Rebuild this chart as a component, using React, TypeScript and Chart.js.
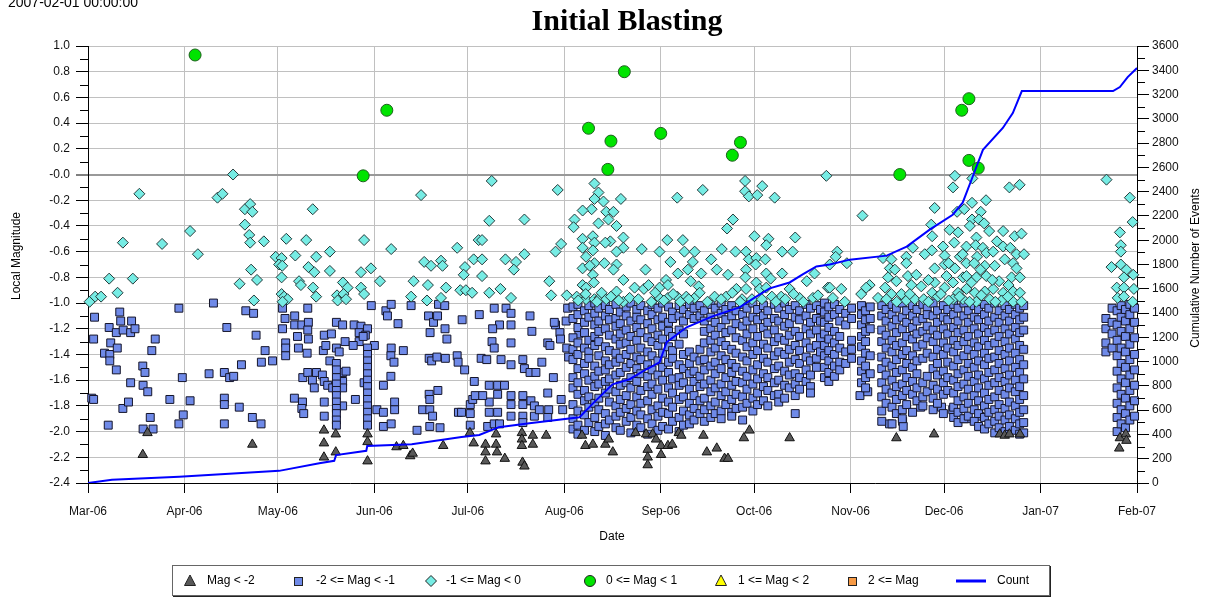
import React, { useEffect, useRef } from "react";
import { Chart, registerables } from "chart.js";
Chart.register(...registerables);

// x values are days since 2006-03-01
const monthTickDays = [0, 31, 61, 92, 122, 153, 184, 214, 245, 275, 306, 337];
const monthTickLabels = ["Mar-06", "Apr-06", "May-06", "Jun-06", "Jul-06", "Aug-06", "Sep-06", "Oct-06", "Nov-06", "Dec-06", "Jan-07", "Feb-07"];
const magTickValues = [-2.4, -2.2, -2.0, -1.8, -1.6, -1.4, -1.2, -1.0, -0.8, -0.6, -0.4, -0.2, 0.0, 0.2, 0.4, 0.6, 0.8, 1.0];
const magTickLabels = ["-2.4", "-2.2", "-2.0", "-1.8", "-1.6", "-1.4", "-1.2", "-1.0", "-0.8", "-0.6", "-0.4", "-0.2", "-0.0", "0.2", "0.4", "0.6", "0.8", "1.0"];
const magMinorTicks = [-2.3, -2.1, -1.9, -1.7, -1.5, -1.3, -1.1, -0.9, -0.7, -0.5, -0.3, -0.1, 0.1, 0.3, 0.5, 0.7, 0.9];
const countMinorTicks = [100, 300, 500, 700, 900, 1100, 1300, 1500, 1700, 1900, 2100, 2300, 2500, 2700, 2900, 3100, 3300, 3500];

const legendLabels = ["Mag < -2", "-2 <= Mag < -1", "-1 <= Mag < 0", "0 <= Mag < 1", "1 <= Mag < 2", "2 <= Mag", "Count"];

// cumulative count line
const countDays = [0, 7.7, 29.3, 61.4, 74.3, 79.1, 79.7, 89.4, 89.7, 104, 120, 125.7, 132, 141.8, 157.9, 162, 168.5, 174, 179.4, 183.6, 185.9, 192.3, 200.6, 209.3, 214.8, 219, 225.4, 229.6, 234, 238.3, 244.7, 256.6, 263, 270.4, 277.8, 281, 284.2, 287.5, 293.9, 297.1, 300, 329.3, 331.5, 334, 337];
const countValues = [0, 27, 52, 100, 163, 183, 230, 265, 305, 320, 378, 395, 460, 493, 542, 650, 813, 855, 937, 994, 1160, 1283, 1373, 1447, 1537, 1603, 1652, 1718, 1784, 1800, 1840, 1873, 1947, 2087, 2210, 2309, 2523, 2745, 2925, 3048, 3229, 3229, 3262, 3344, 3418];

// 0 <= Mag < 1
const circlePoints = [[34.4, 0.93], [88.4, -0.01], [96, 0.50], [160.8, 0.36], [168, 0.26], [167, 0.04], [172.3, 0.80], [184, 0.32], [207, 0.15], [209.6, 0.25], [260.8, 0.0], [280.7, 0.50], [283, 0.59], [283, 0.11], [286, 0.05]];

// Mag < -2
const trianglePoints = [[17.6, -2.18], [19.1, -2.01], [52.8, -2.10], [75.8, -1.99], [75.8, -2.09], [75.8, -2.20], [79.6, -2.02], [79.6, -2.16], [89.8, -2.02], [89.8, -2.08], [89.8, -2.23], [99.1, -2.12], [101.3, -2.11], [103.5, -2.19], [104.3, -2.17], [114.1, -2.11], [122.7, -2.01], [123.9, -2.09], [127.7, -2.10], [127.7, -2.16], [127.7, -2.23], [131.1, -2.02], [131.1, -2.10], [131.4, -2.16], [133.9, -2.21], [139.4, -2.01], [139.4, -2.06], [139.4, -2.11], [142.9, -2.03], [142.9, -2.10], [139.6, -2.24], [140.2, -2.27], [147.2, -2.03], [158.7, -2.03], [159.8, -2.11], [162.2, -2.10], [166.2, -2.10], [167.3, -2.06], [168.6, -2.16], [175.9, -2.01], [179.3, -2.02], [179.8, -2.14], [179.8, -2.20], [179.8, -2.26], [181.4, -2.02], [182.5, -2.06], [184.1, -2.11], [184.1, -2.18], [186.3, -2.11], [187.7, -2.10], [189.8, -2.01], [190.6, -2.03], [197.7, -2.03], [198.8, -2.16], [202, -2.13], [204.5, -2.21], [205.6, -2.21], [210.7, -2.05], [212.5, -1.99], [225.4, -2.05], [259.7, -2.05], [271.8, -2.02], [292.9, -2.02], [294.5, -2.03], [296, -2.02], [299.4, -2.02], [331.5, -2.05], [331.3, -2.13], [333.4, -2.02], [333.6, -2.07]];

// -1 <= Mag < 0
const diamondPoints = [
  [0.5, -0.99], [2.3, -0.95], [4.2, -0.95], [6.8, -0.81], [9.5, -0.92], [11.2, -0.53], [14.4, -0.81], [16.5, -0.15], [23.8, -0.54], [32.8, -0.44], [35.3, -0.62], [41.6, -0.18], [43.2, -0.15], [46.6, 0.0], [50.4, -0.27], [52.1, -0.23], [52.8, -0.29], [50.4, -0.39], [51.8, -0.47], [52.1, -0.53], [56.5, -0.52], [48.7, -0.85], [52.4, -0.74], [54.3, -0.82], [53.3, -0.98],
  [60.3, -0.64], [62.2, -0.65], [61.4, -0.70], [62.4, -0.71], [62.2, -0.80], [63.7, -0.50], [66.6, -0.63], [70.1, -0.51], [72.2, -0.27], [73.3, -0.64], [70.8, -0.72], [72.7, -0.76], [67.8, -0.83], [68.4, -0.86], [72.3, -0.88], [73.3, -0.95], [77.7, -0.60], [77.7, -0.75], [62.2, -0.93], [63, -0.95], [64.1, -0.97], [62.5, -0.99], [81.9, -0.84], [83.4, -0.88], [80, -0.94], [82.1, -0.93], [80.2, -0.98], [82.9, -0.97], [87.7, -0.76], [87.7, -0.88], [88.7, -0.93], [88.7, -0.51], [90.9, -0.73], [93.8, -0.83], [97.4, -0.58],
  [107, -0.16], [104.6, -0.83], [103.8, -0.95], [108, -0.68], [110.2, -0.71], [109.2, -0.86], [108.9, -0.98], [113.4, -0.67], [113.9, -0.71], [115, -0.88], [113.4, -0.96], [118.6, -0.57], [119.6, -0.90], [121.4, -0.90], [123.4, -0.92], [121.1, -0.72], [120.7, -0.78], [123.9, -0.66], [125.5, -0.51],
  [129.7, -0.05], [128.9, -0.36], [126.6, -0.51], [126.6, -0.66], [126.6, -0.79], [140.2, -0.35], [134.1, -0.66], [137.5, -0.68], [136.8, -0.74], [140.2, -0.62], [132.5, -0.89], [128.9, -0.92], [135.9, -0.96], [150.9, -0.12], [148.2, -0.83], [148.8, -0.94], [150.2, -0.60], [152, -0.54], [153.8, -0.94], [157, -0.95],
  [162.7, -0.07], [164, -0.14], [162.7, -0.19], [165.6, -0.21], [161.8, -0.27], [158.9, -0.28], [156.3, -0.35], [156, -0.41], [166.5, -0.29], [168.8, -0.29], [167.2, -0.35], [164, -0.38], [171.2, -0.19], [169.8, -0.40], [158.9, -0.50], [162.2, -0.48], [162.7, -0.53], [158.9, -0.57], [162.2, -0.59], [160, -0.64], [167.8, -0.52], [166.2, -0.53], [172, -0.49], [172, -0.57], [169.8, -0.60], [162.7, -0.69], [165.9, -0.69], [169.8, -0.70], [168.8, -0.74], [158.9, -0.73], [161.2, -0.71], [162.2, -0.78], [158.9, -0.86], [160, -0.88], [162.5, -0.84], [172, -0.82], [169.8, -0.91], [160, -0.97], [162.7, -0.97], [164.3, -0.96], [166.5, -0.97], [172, -0.99],
  [175.6, -0.88], [178.6, -0.89], [179.1, -0.74], [177.9, -0.58], [180.1, -0.86], [183.6, -0.60], [186.1, -0.51], [189.3, -0.18], [191.1, -0.51], [191.6, -0.60], [187.1, -0.68], [189.5, -0.77], [185.7, -0.82], [183.6, -0.88], [186.3, -0.86], [183.6, -0.96], [186.3, -0.96], [189.3, -0.95], [192.7, -0.74], [194.9, -0.60], [194.3, -0.68], [197, -0.77], [193.6, -0.83], [196.2, -0.87], [192.2, -0.95], [194.9, -0.96], [197.5, -0.12], [200.2, -0.66], [202, -0.74], [203.6, -0.58], [205.6, -0.78], [201.3, -0.95], [205, -0.95], [207.2, -0.35], [205.3, -0.42],
  [211.1, -0.05], [211.1, -0.13], [212.3, -0.17], [215, -0.16], [216.6, -0.09], [220.6, -0.18], [208, -0.60], [211.4, -0.60], [212.3, -0.66], [214.1, -0.48], [218.6, -0.50], [217.9, -0.55], [214.7, -0.65], [217.6, -0.66], [211.4, -0.74], [214.5, -0.70], [211.2, -0.80], [214.7, -0.84], [217.9, -0.77], [219.3, -0.81], [223, -0.60], [226.4, -0.60], [227.2, -0.49], [223, -0.77], [208.3, -0.89], [211.4, -0.89], [215.8, -0.89], [217.9, -0.88], [210.1, -0.97], [213.3, -0.97], [216.5, -0.97], [222.7, -0.95], [225.4, -0.89], [228.6, -0.96], [230.9, -0.83], [233.4, -0.77], [232.9, -0.96], [237.2, -0.01], [237.7, -0.88],
  [157.5, -0.98], [159.9, -0.93], [163.5, -0.99], [165, -0.92], [168, -0.95], [170.5, -0.98], [174, -0.96], [176.8, -0.97], [181, -0.99], [182.2, -0.92], [185, -0.98], [188, -0.93], [190.3, -0.99], [193, -0.97], [196.5, -0.92], [199, -0.99], [203.4, -0.97], [207, -0.92], [209.5, -0.99], [219.7, -0.95], [221, -0.99], [224, -0.97], [226.7, -0.93], [229.8, -0.99], [234.5, -0.94],
  [248.8, -0.32], [240.7, -0.60], [240.2, -0.64], [243.8, -0.69], [238.3, -0.70], [238.3, -0.88], [242, -0.89], [239.3, -0.96], [243.1, -0.99], [248.4, -0.93], [251.1, -0.86], [250, -0.88], [253.8, -0.96],
  [255.4, -0.65], [258.1, -0.66], [257.6, -0.73], [259.2, -0.74], [262.9, -0.64], [265, -0.57], [262.9, -0.69], [257, -0.80], [259.7, -0.83], [256.1, -0.88], [258.1, -0.93], [263.4, -0.79], [266.1, -0.78], [264.5, -0.86], [267.7, -0.87], [261.3, -0.93], [262.9, -0.98], [265.6, -0.97],
  [272, -0.26], [270.9, -0.39], [271.2, -0.48], [271.1, -0.59], [272, -0.73], [272, -0.84], [271.2, -0.92], [273, -0.95], [274.7, -0.56], [275.2, -0.63], [275.2, -0.70], [275.8, -0.79], [275.2, -0.88],
  [278.5, -0.01], [277.9, -0.10], [279.2, -0.29], [279.5, -0.45], [278.3, -0.53], [280.1, -0.64], [278.5, -0.73], [281.1, -0.80], [277.9, -0.84], [279.5, -0.92], [277.9, -0.97], [284.1, -0.03], [288.5, -0.20], [286.8, -0.29], [284, -0.35], [286.2, -0.35], [287.9, -0.38], [283.3, -0.40], [285.4, -0.49], [282.2, -0.56], [285.2, -0.55], [287.5, -0.57], [285.6, -0.64], [288.6, -0.61], [290.8, -0.60], [294, -0.56], [294, -0.44], [297.7, -0.48], [299.9, -0.46], [296, -0.10], [299.3, -0.08],
  [282.2, -0.69], [284.7, -0.69], [288.1, -0.71], [291.3, -0.71], [294.5, -0.66], [298.3, -0.62], [297.2, -0.69], [298.3, -0.73], [282.2, -0.79], [285.4, -0.80], [288.6, -0.79], [292.7, -0.83], [296.7, -0.80], [299.4, -0.80], [282.2, -0.89], [284.9, -0.92], [288.1, -0.91], [290.8, -0.89], [294, -0.92], [297.2, -0.91], [299.4, -0.92], [281.1, -0.97], [285.4, -0.99], [289.7, -0.97], [293.5, -0.98], [297.2, -0.99],
  [256.5, -0.97], [259.8, -0.99], [264, -0.93], [268.5, -0.97], [270, -0.99], [274, -0.93], [276.5, -0.98], [280, -0.95], [283.2, -0.99], [287, -0.94], [291.5, -0.99], [295.5, -0.95], [299.9, -0.99], [268.8, -0.62], [270, -0.82], [276.5, -0.69], [286.7, -0.74], [292, -0.52], [296.3, -0.57], [289.5, -0.44], [300.7, -0.62], [290.5, -0.82], [295.7, -0.86], [283.8, -0.84], [281, -0.62], [276.8, -0.43], [284, -0.22], [281.5, -0.27],
  [327.2, -0.04], [334.7, -0.18], [335.6, -0.37], [331.5, -0.45], [331.8, -0.55], [331.8, -0.60], [328.8, -0.72], [331.8, -0.70], [333.6, -0.74], [335.8, -0.78], [332.8, -0.80], [330.5, -0.88], [332.8, -0.88], [336, -0.89], [330.8, -0.96], [332.8, -0.95], [335.6, -0.99]
];

// -2 <= Mag < -1 : scattered events
const squarePoints = [
  [1.2, -1.74], [1.8, -1.75], [2.1, -1.11], [1.8, -1.28], [5.3, -1.39], [7, -1.40], [7, -1.45], [7.3, -1.31], [6.8, -1.19], [9.1, -1.23], [9.1, -1.52], [9.4, -1.35], [10.2, -1.07], [10.5, -1.14], [11.3, -1.21], [13.7, -1.23], [14, -1.14], [15.1, -1.20], [13.7, -1.62], [11.2, -1.82], [13, -1.77], [6.5, -1.95], [17.6, -1.49], [18.3, -1.54], [21.6, -1.28], [20.5, -1.37], [17.7, -1.64], [19.2, -1.69], [20, -1.89], [17.7, -1.98], [20.9, -1.98], [26.3, -1.75], [29.2, -1.04], [30.3, -1.58], [30.6, -1.87], [29.2, -1.94], [32.8, -1.76],
  [40.3, -1.00], [38.9, -1.55], [44.6, -1.19], [43.8, -1.54], [45.5, -1.58], [46.8, -1.57], [43.8, -1.74], [43.8, -1.79], [43.8, -1.94], [48.6, -1.81], [49.3, -1.48], [50.7, -1.06], [53.2, -1.08], [54, -1.25], [52.8, -1.89], [55.6, -1.94], [55.7, -1.46], [56.9, -1.37], [59.3, -1.45],
  [62.5, -1.04], [63.3, -1.12], [62.5, -1.20], [63.5, -1.31], [63.5, -1.35], [63.5, -1.41], [66.4, -1.10], [66.4, -1.17], [67.3, -1.26], [67.6, -1.35], [68.7, -1.17], [70.6, -1.04], [70.8, -1.15], [70.6, -1.21], [70.8, -1.28], [70.4, -1.39], [66.3, -1.74], [68.9, -1.77], [68.7, -1.82], [69.3, -1.86], [69, -1.58], [70.6, -1.54], [72.1, -1.60], [72.7, -1.66], [73.4, -1.54],
  [75.9, -1.25], [78.2, -1.24], [75.6, -1.37], [76.4, -1.33], [77.7, -1.45], [79.8, -1.15], [81.8, -1.17], [79.8, -1.35], [80.7, -1.38], [82.6, -1.30], [75.3, -1.56], [75.9, -1.61], [77, -1.64], [78.6, -1.66], [75.9, -1.77], [75.9, -1.88], [81.8, -1.54], [82.9, -1.53], [81.8, -1.61], [81.8, -1.66], [81.8, -1.80], [85.9, -1.75],
  [79.8, -1.47], [79.8, -1.52], [79.8, -1.58], [79.8, -1.63], [79.8, -1.68], [79.8, -1.72], [79.8, -1.77], [79.8, -1.82], [79.8, -1.86], [79.8, -1.91], [79.8, -1.95],
  [85.5, -1.17], [87.7, -1.18], [89.8, -1.20], [87.1, -1.23], [89.1, -1.25], [87.1, -1.30], [85.2, -1.33], [88.4, -1.26], [88.7, -1.62], [92, -1.33],
  [89.8, -1.35], [89.8, -1.40], [89.8, -1.45], [89.8, -1.50], [89.8, -1.55], [89.8, -1.60], [89.8, -1.65], [89.8, -1.70], [89.8, -1.75], [89.8, -1.80], [89.8, -1.85], [89.8, -1.90], [89.8, -1.95],
  [91, -1.02], [95.7, -1.06], [96.2, -1.10], [97.4, -1.01], [99.6, -1.16], [97.4, -1.35], [97.3, -1.41], [98.3, -1.46], [101.3, -1.37], [97.3, -1.57], [94.9, -1.64], [92.8, -1.83], [94.9, -1.85], [98.5, -1.77], [98.5, -1.83], [94.9, -1.96], [97.4, -1.94], [105.7, -1.99],
  [103.8, -1.02], [109.4, -1.10], [111, -1.15], [112.3, -1.10], [109.9, -1.23], [112.6, -1.01], [114.6, -1.02], [114.7, -1.20], [115.3, -1.28], [109.6, -1.43], [110.4, -1.45], [112.1, -1.42], [114.8, -1.43], [118.6, -1.41], [118.9, -1.46], [121, -1.52], [120.2, -1.13], [109.6, -1.71], [109.8, -1.75], [112.4, -1.68], [107.5, -1.83], [109.8, -1.83], [110.7, -1.88], [109.8, -1.96], [113.1, -1.97], [119, -1.85], [120, -1.85], [122.8, -1.86], [122.8, -1.79], [123.6, -1.75], [124.4, -1.72], [124.1, -1.61], [122.8, -1.95],
  [125.7, -1.09], [130.5, -1.04], [134.3, -1.04], [135.9, -1.08], [132.2, -1.17], [130, -1.20], [135.9, -1.17], [142, -1.10], [142.6, -1.22], [129.8, -1.30], [130.5, -1.35], [135.9, -1.31], [126.3, -1.43], [128.1, -1.44], [132.7, -1.44], [135.9, -1.48], [139.7, -1.44], [140.2, -1.51], [142, -1.54], [145.8, -1.46], [143.9, -1.54], [149.5, -1.58], [147.7, -1.31], [150.2, -1.17], [151.6, -1.23], [149.8, -1.15], [153.6, -1.14], [154.1, -1.04], [151.8, -1.28], [148.4, -1.33], [153.8, -1.35], [154.4, -1.42], [157.7, -1.24],
  [128.9, -1.64], [131.6, -1.64], [131.6, -1.71], [133.8, -1.64], [135.9, -1.72], [135.9, -1.79], [135.9, -1.88], [139.7, -1.72], [139.7, -1.79], [139.7, -1.88], [139.7, -1.93], [142.3, -1.76], [143.4, -1.80], [143.4, -1.88], [145, -1.83], [147.7, -1.70], [148, -1.83], [147.7, -1.89], [152, -1.75], [152.5, -1.83], [128.9, -1.77], [128.9, -1.85], [128.4, -1.96], [130.5, -1.94], [131.6, -1.85], [132.2, -1.94], [126.8, -1.72],
  [248.0, -1.72], [250.5, -1.69], [257.5, -1.94], [261.7, -1.92], [261.9, -1.96], [267.5, -1.81], [274.2, -1.81], [277.8, -1.83], [282.2, -1.90], [286.5, -1.88]
];

// -2 <= Mag < -1 : dense swarms, one entry per day column [day, magnitudes]
const squareColumns = [
  [155.8, [-1.03, -1.12, -1.27, -1.36, -1.44, -1.58, -1.66, -1.79, -1.90, -1.98]],
  [157.4, [-1.01, -1.09, -1.19, -1.31, -1.40, -1.51, -1.62, -1.71, -1.84, -1.95, -2.02]],
  [159.5, [-1.06, -1.15, -1.23, -1.35, -1.47, -1.55, -1.68, -1.76, -1.87, -1.99]],
  [160.9, [-1.02, -1.11, -1.29, -1.38, -1.43, -1.60, -1.73, -1.81, -1.93]],
  [162.8, [-1.00, -1.08, -1.17, -1.26, -1.33, -1.49, -1.57, -1.65, -1.78, -1.89, -2.00]],
  [164.1, [-1.04, -1.14, -1.22, -1.30, -1.41, -1.53, -1.63, -1.74, -1.83, -1.96]],
  [166.2, [-1.02, -1.10, -1.20, -1.34, -1.45, -1.52, -1.61, -1.70, -1.86, -1.94, -2.03]],
  [167.5, [-1.05, -1.13, -1.25, -1.37, -1.48, -1.59, -1.67, -1.77, -1.91]],
  [169.6, [-1.01, -1.12, -1.18, -1.28, -1.39, -1.46, -1.56, -1.69, -1.80, -1.88, -1.97]],
  [171.0, [-1.07, -1.16, -1.24, -1.32, -1.43, -1.54, -1.64, -1.75, -1.85, -1.99]],
  [172.9, [-1.03, -1.10, -1.21, -1.31, -1.40, -1.50, -1.62, -1.72, -1.82, -1.92]],
  [174.4, [-1.00, -1.14, -1.26, -1.36, -1.47, -1.58, -1.66, -1.79, -1.89, -2.01]],
  [176.3, [-1.05, -1.11, -1.19, -1.29, -1.42, -1.51, -1.61, -1.73, -1.84, -1.95]],
  [177.6, [-1.02, -1.13, -1.23, -1.35, -1.44, -1.55, -1.68, -1.78, -1.87, -1.97]],
  [179.8, [-1.06, -1.16, -1.27, -1.38, -1.48, -1.57, -1.65, -1.76, -1.90, -2.02]],
  [181.2, [-1.01, -1.09, -1.20, -1.30, -1.41, -1.52, -1.63, -1.71, -1.83, -1.94]],
  [183.1, [-1.04, -1.13, -1.25, -1.33, -1.45, -1.56, -1.67, -1.80, -1.88, -1.99]],
  [184.6, [-1.00, -1.11, -1.18, -1.28, -1.39, -1.50, -1.60, -1.74, -1.85, -1.96]],
  [186.5, [-1.03, -1.15, -1.22, -1.34, -1.46, -1.54, -1.66, -1.77, -1.86, -1.98]],
  [187.8, [-1.07, -1.12, -1.26, -1.37, -1.43, -1.59, -1.70, -1.81, -1.92]],
  [189.9, [-1.02, -1.10, -1.21, -1.32, -1.48, -1.58, -1.64, -1.75, -1.89, -2.00]],
  [191.3, [-1.05, -1.14, -1.24, -1.40, -1.51, -1.62, -1.73, -1.84, -1.95]],
  [193.2, [-1.01, -1.09, -1.38, -1.47, -1.55, -1.67, -1.78, -1.87, -1.94]],
  [194.7, [-1.04, -1.12, -1.42, -1.53, -1.61, -1.72, -1.82, -1.91]],
  [196.6, [-1.02, -1.10, -1.36, -1.45, -1.57, -1.65, -1.76, -1.86]],
  [198.0, [-1.06, -1.14, -1.22, -1.31, -1.44, -1.52, -1.63, -1.74, -1.83, -1.92]],
  [200.1, [-1.01, -1.11, -1.20, -1.29, -1.38, -1.49, -1.60, -1.69, -1.80, -1.89]],
  [201.5, [-1.04, -1.15, -1.25, -1.35, -1.46, -1.55, -1.66, -1.77, -1.86]],
  [203.4, [-1.00, -1.08, -1.19, -1.30, -1.41, -1.51, -1.63, -1.72, -1.84, -1.90]],
  [204.9, [-1.05, -1.13, -1.23, -1.33, -1.44, -1.58, -1.69, -1.79]],
  [206.8, [-1.02, -1.10, -1.21, -1.36, -1.47, -1.54, -1.64, -1.75, -1.85, -1.88]],
  [208.2, [-1.06, -1.16, -1.27, -1.39, -1.50, -1.61, -1.71, -1.82]],
  [210.3, [-1.01, -1.09, -1.18, -1.29, -1.42, -1.53, -1.62, -1.73, -1.81, -1.91]],
  [211.7, [-1.04, -1.14, -1.24, -1.34, -1.45, -1.57, -1.67, -1.78]],
  [213.6, [-1.00, -1.11, -1.20, -1.31, -1.40, -1.52, -1.63, -1.74, -1.84]],
  [215.1, [-1.05, -1.13, -1.26, -1.37, -1.48, -1.59, -1.70, -1.79]],
  [217.0, [-1.02, -1.10, -1.19, -1.32, -1.43, -1.55, -1.65, -1.76]],
  [218.4, [-1.06, -1.15, -1.24, -1.35, -1.46, -1.58, -1.68, -1.80]],
  [220.5, [-1.01, -1.12, -1.21, -1.30, -1.41, -1.51, -1.62, -1.72]],
  [221.9, [-1.04, -1.14, -1.27, -1.38, -1.49, -1.60, -1.71, -1.77]],
  [223.8, [-1.00, -1.09, -1.18, -1.29, -1.40, -1.53, -1.64, -1.74]],
  [225.3, [-1.05, -1.16, -1.25, -1.36, -1.46, -1.56, -1.66]],
  [227.2, [-1.02, -1.11, -1.22, -1.33, -1.44, -1.55, -1.63, -1.72, -1.86]],
  [228.6, [-1.06, -1.13, -1.26, -1.37, -1.47, -1.58, -1.67]],
  [230.7, [-1.01, -1.10, -1.20, -1.31, -1.42, -1.52, -1.61]],
  [232.1, [-1.04, -1.15, -1.24, -1.35, -1.45, -1.56, -1.65, -1.70]],
  [234.0, [-1.02, -1.12, -1.21, -1.33, -1.43, -1.50]],
  [235.3, [-1.05, -1.14, -1.27, -1.38]],
  [236.6, [-1.00, -1.07, -1.15, -1.24, -1.33, -1.41, -1.50, -1.58]],
  [238.0, [-1.03, -1.11, -1.19, -1.28, -1.37, -1.45, -1.54, -1.61]],
  [239.8, [-1.01, -1.09, -1.22, -1.31, -1.40, -1.49, -1.57]],
  [241.5, [-1.05, -1.14, -1.26, -1.35, -1.46, -1.52]],
  [243.4, [-1.08, -1.17, -1.38, -1.47]],
  [245.3, [-1.04, -1.12, -1.29, -1.36, -1.43]],
  [248.5, [-1.02, -1.09, -1.17, -1.26, -1.34, -1.45, -1.53, -1.62]],
  [249.8, [-1.06, -1.13, -1.22, -1.30, -1.39, -1.49, -1.58, -1.66]],
  [251.3, [-1.03, -1.12, -1.20, -1.41, -1.55]],
  [255.0, [-1.02, -1.10, -1.21, -1.30, -1.42, -1.51, -1.62, -1.73, -1.84, -1.92]],
  [256.4, [-1.05, -1.14, -1.25, -1.35, -1.46, -1.56, -1.67, -1.78]],
  [258.3, [-1.01, -1.09, -1.18, -1.29, -1.38, -1.49, -1.60, -1.70, -1.81, -1.94]],
  [259.7, [-1.04, -1.13, -1.23, -1.33, -1.44, -1.54, -1.65, -1.75, -1.86]],
  [261.6, [-1.00, -1.11, -1.20, -1.31, -1.40, -1.52, -1.63, -1.72, -1.83, -1.90]],
  [263.0, [-1.06, -1.15, -1.26, -1.37, -1.47, -1.58, -1.68, -1.79]],
  [264.9, [-1.02, -1.10, -1.19, -1.28, -1.41, -1.50, -1.61, -1.71, -1.85]],
  [266.3, [-1.05, -1.14, -1.24, -1.34, -1.45, -1.55, -1.66, -1.76]],
  [268.2, [-1.01, -1.12, -1.22, -1.32, -1.43, -1.62, -1.73, -1.80]],
  [269.6, [-1.04, -1.09, -1.18, -1.27, -1.39, -1.57, -1.69]],
  [271.5, [-1.00, -1.10, -1.21, -1.30, -1.42, -1.51, -1.64, -1.74, -1.83]],
  [272.9, [-1.06, -1.15, -1.25, -1.36, -1.47, -1.56, -1.67, -1.78]],
  [274.8, [-1.02, -1.11, -1.20, -1.31, -1.40, -1.53, -1.62, -1.71, -1.86]],
  [276.2, [-1.05, -1.13, -1.24, -1.35, -1.46, -1.58, -1.68]],
  [278.1, [-1.01, -1.09, -1.19, -1.29, -1.38, -1.49, -1.60, -1.70, -1.81, -1.89]],
  [279.5, [-1.04, -1.14, -1.23, -1.33, -1.44, -1.55, -1.65, -1.76, -1.85, -1.93]],
  [281.4, [-1.00, -1.10, -1.21, -1.30, -1.41, -1.52, -1.63, -1.73, -1.82, -1.90]],
  [282.8, [-1.06, -1.15, -1.26, -1.36, -1.47, -1.57, -1.67, -1.78, -1.88]],
  [284.7, [-1.02, -1.11, -1.20, -1.31, -1.40, -1.50, -1.61, -1.72, -1.83, -1.92]],
  [286.1, [-1.05, -1.13, -1.24, -1.34, -1.45, -1.56, -1.66, -1.76, -1.86, -1.96]],
  [288.0, [-1.01, -1.09, -1.19, -1.29, -1.39, -1.48, -1.59, -1.70, -1.80, -1.89, -1.98]],
  [289.4, [-1.04, -1.14, -1.23, -1.33, -1.43, -1.54, -1.64, -1.75, -1.85, -1.94]],
  [291.3, [-1.00, -1.11, -1.21, -1.31, -1.42, -1.52, -1.62, -1.73, -1.83, -1.92, -2.01]],
  [292.7, [-1.06, -1.15, -1.26, -1.37, -1.47, -1.58, -1.68, -1.79, -1.88, -1.97]],
  [294.6, [-1.02, -1.10, -1.20, -1.30, -1.40, -1.51, -1.61, -1.71, -1.82, -1.91, -2.00]],
  [296.0, [-1.05, -1.14, -1.24, -1.35, -1.45, -1.56, -1.66, -1.77, -1.87, -1.96]],
  [297.9, [-1.01, -1.09, -1.19, -1.28, -1.39, -1.50, -1.60, -1.69, -1.80, -1.90, -1.99]],
  [299.3, [-1.04, -1.13, -1.23, -1.33, -1.44, -1.54, -1.65, -1.75, -1.85, -1.94, -2.02]],
  [300.6, [-1.02, -1.11, -1.21, -1.36, -1.48, -1.59, -1.72, -1.83, -1.93, -2.01]],
  [327.0, [-1.12, -1.20, -1.31, -1.38]],
  [329.0, [-1.04, -1.15, -1.24, -1.35]],
  [330.6, [-1.06, -1.17, -1.29, -1.41, -1.53, -1.66, -1.78, -1.89, -2.00]],
  [331.9, [-1.02, -1.11, -1.22, -1.35, -1.47, -1.59, -1.71, -1.83, -1.94]],
  [333.3, [-1.05, -1.14, -1.26, -1.38, -1.50, -1.62, -1.74, -1.86, -1.97]],
  [334.7, [-1.01, -1.09, -1.20, -1.32, -1.44, -1.56, -1.68, -1.80, -1.91]],
  [336.2, [-1.04, -1.15, -1.27, -1.40, -1.52, -1.64, -1.76, -1.88]]
];

const COLORS = {
  tri: "#595959",
  sq: "#6f8ae8",
  dia: "#76ece4",
  circ: "#00e400",
  yellow: "#ffff00",
  orange: "#f79a45",
  line: "#0000ff",
  grid: "#c0c0c0",
  zero: "#999999",
};

const SANS = "'Liberation Sans', Arial, sans-serif";

function toXY(list: number[][]) {
  return list.map(([x, y]) => ({ x, y }));
}

function squaresData() {
  const out = toXY(squarePoints);
  for (const [d, mags] of squareColumns as [number, number[]][]) {
    for (const m of mags) out.push({ x: d, y: m });
  }
  return out;
}

const decorPlugin = {
  id: "decor",
  afterDraw(chart: any) {
    const ctx = chart.ctx as CanvasRenderingContext2D;
    const area = chart.chartArea;
    const yL = chart.scales.y;
    const yR = chart.scales.y2;
    ctx.save();
    // minor ticks
    ctx.strokeStyle = "#000";
    ctx.lineWidth = 1;
    ctx.beginPath();
    for (const v of magMinorTicks) {
      const py = Math.round(yL.getPixelForValue(v)) + 0.5;
      ctx.moveTo(area.left - 8, py);
      ctx.lineTo(area.left, py);
    }
    for (const v of countMinorTicks) {
      const py = Math.round(yR.getPixelForValue(v)) + 0.5;
      ctx.moveTo(area.right, py);
      ctx.lineTo(area.right + 8, py);
    }
    ctx.stroke();

    // timestamp
    ctx.fillStyle = "#000";
    ctx.font = `14px ${SANS}`;
    ctx.textAlign = "left";
    ctx.textBaseline = "alphabetic";
    ctx.fillText("2007-02-01 00:00:00", 8, 7);

    // title
    ctx.font = `bold 30px 'Liberation Serif', 'Times New Roman', serif`;
    ctx.textAlign = "center";
    ctx.fillText("Initial Blasting", 627, 30);

    // axis titles
    ctx.font = `12px ${SANS}`;
    ctx.fillText("Date", 612, 540);
    ctx.save();
    ctx.translate(17, 256);
    ctx.rotate(-Math.PI / 2);
    ctx.textBaseline = "middle";
    ctx.fillText("Local Magnitude", 0, 0);
    ctx.restore();
    ctx.save();
    ctx.translate(1196, 268);
    ctx.rotate(-Math.PI / 2);
    ctx.textBaseline = "middle";
    ctx.fillText("Cumulative Number of Events", 0, 0);
    ctx.restore();

    // legend box
    ctx.fillStyle = "#fff";
    ctx.fillRect(172, 565, 878, 31);
    ctx.strokeStyle = "#666";
    ctx.lineWidth = 1;
    ctx.strokeRect(172.5, 565.5, 877, 30);
    ctx.strokeStyle = "#222";
    ctx.beginPath();
    ctx.moveTo(1050.5, 566);
    ctx.lineTo(1050.5, 597);
    ctx.moveTo(173, 596.5);
    ctx.lineTo(1051, 596.5);
    ctx.stroke();

    const cy = 581;
    const iconX = [190, 298, 431, 590, 721, 852];
    const textX = [207, 316, 446, 606, 738, 868, 997];
    ctx.lineWidth = 1;
    ctx.strokeStyle = "#222";
    const tri = (x: number, fill: string) => {
      ctx.beginPath();
      ctx.moveTo(x, cy - 6);
      ctx.lineTo(x + 5.5, cy + 4.5);
      ctx.lineTo(x - 5.5, cy + 4.5);
      ctx.closePath();
      ctx.fillStyle = fill;
      ctx.fill();
      ctx.stroke();
    };
    const sq = (x: number, fill: string) => {
      ctx.fillStyle = fill;
      ctx.fillRect(x - 4, cy - 4, 8, 8);
      ctx.strokeRect(x - 3.5, cy - 3.5, 8, 8);
    };
    tri(iconX[0], COLORS.tri);
    sq(iconX[1], COLORS.sq);
    ctx.beginPath();
    ctx.moveTo(iconX[2], cy - 5.5);
    ctx.lineTo(iconX[2] + 5.5, cy);
    ctx.lineTo(iconX[2], cy + 5.5);
    ctx.lineTo(iconX[2] - 5.5, cy);
    ctx.closePath();
    ctx.fillStyle = COLORS.dia;
    ctx.fill();
    ctx.stroke();
    ctx.beginPath();
    ctx.arc(iconX[3], cy, 5.5, 0, Math.PI * 2);
    ctx.fillStyle = COLORS.circ;
    ctx.fill();
    ctx.stroke();
    tri(iconX[4], COLORS.yellow);
    sq(iconX[5], COLORS.orange);
    ctx.strokeStyle = COLORS.line;
    ctx.lineWidth = 3;
    ctx.beginPath();
    ctx.moveTo(956, cy);
    ctx.lineTo(986, cy);
    ctx.stroke();

    ctx.fillStyle = "#000";
    ctx.font = `12px ${SANS}`;
    ctx.textAlign = "left";
    ctx.textBaseline = "middle";
    legendLabels.forEach((t, i) => ctx.fillText(t, textX[i], cy));
    ctx.restore();
  },
};

export default function App() {
  const ref = useRef<HTMLCanvasElement>(null);
  useEffect(() => {
    if (!ref.current) return;
    const pointCommon = { showLine: false, borderWidth: 1, clip: false as any };
    const chart = new Chart(ref.current, {
      type: "scatter",
      data: {
        datasets: [
          {
            label: legendLabels[0], data: toXY(trianglePoints), ...pointCommon, yAxisID: "y",
            pointStyle: "triangle", pointRadius: 5.5, backgroundColor: COLORS.tri, borderColor: "#111", order: 3,
          },
          {
            label: legendLabels[1], data: squaresData(), ...pointCommon, yAxisID: "y",
            pointStyle: "rect", pointRadius: 5.6, backgroundColor: COLORS.sq, borderColor: "#15152a", order: 4,
          },
          {
            label: legendLabels[2], data: toXY(diamondPoints), ...pointCommon, yAxisID: "y",
            pointStyle: "rectRot", pointRadius: 5.5, backgroundColor: COLORS.dia, borderColor: "#253a3a", order: 2,
          },
          {
            label: legendLabels[3], data: toXY(circlePoints), ...pointCommon, yAxisID: "y",
            pointStyle: "circle", pointRadius: 6, backgroundColor: COLORS.circ, borderColor: "#1f5f1f", order: 1,
          },
          {
            label: legendLabels[4], data: [], ...pointCommon, yAxisID: "y",
            pointStyle: "triangle", pointRadius: 5.5, backgroundColor: COLORS.yellow, borderColor: "#222", order: 5,
          },
          {
            label: legendLabels[5], data: [], ...pointCommon, yAxisID: "y",
            pointStyle: "rect", pointRadius: 5.6, backgroundColor: COLORS.orange, borderColor: "#222", order: 6,
          },
          {
            label: legendLabels[6], type: "line" as any, yAxisID: "y2",
            data: countDays.map((d, i) => ({ x: d, y: countValues[i] })),
            showLine: true, borderColor: COLORS.line, borderWidth: 2, pointRadius: 0, tension: 0, fill: false, order: 0,
          } as any,
        ],
      },
      options: {
        animation: false,
        responsive: false,
        events: [],
        layout: { padding: { left: 0, right: 0, top: 46, bottom: 75 }, autoPadding: false } as any,
        plugins: { legend: { display: false }, tooltip: { enabled: false }, title: { display: false } },
        scales: {
          x: {
            type: "linear", position: "bottom", min: 0, max: 337,
            afterBuildTicks: (axis: any) => { axis.ticks = monthTickDays.map((v) => ({ value: v })); },
            afterFit: (s: any) => { s.height = 40; },
            ticks: {
              autoSkip: false, maxRotation: 0, padding: 11, color: "#111",
              font: { family: SANS, size: 12 },
              callback: (v: any) => monthTickLabels[monthTickDays.indexOf(Number(v))] ?? "",
            },
            grid: { color: COLORS.grid, lineWidth: 1, tickColor: "#000", tickLength: 10, tickWidth: 1 },
            border: { color: "#000", width: 1 },
          },
          y: {
            type: "linear", position: "left", min: -2.4, max: 1.0,
            afterBuildTicks: (axis: any) => { axis.ticks = magTickValues.map((v) => ({ value: v })); },
            afterFit: (s: any) => { s.width = 88; },
            ticks: {
              autoSkip: false, padding: 6, color: "#111", font: { family: SANS, size: 12 },
              callback: (_v: any, i: number) => magTickLabels[i],
            },
            grid: {
              color: (c: any) => (c.tick && Math.abs(c.tick.value) < 1e-9 ? COLORS.zero : COLORS.grid),
              lineWidth: (c: any) => (c.tick && Math.abs(c.tick.value) < 1e-9 ? 2 : 1),
              tickColor: "#000", tickLength: 12, tickWidth: 1,
            },
            border: { color: "#000", width: 1 },
          },
          y2: {
            type: "linear", position: "right", min: 0, max: 3600,
            afterFit: (s: any) => { s.width = 68; },
            ticks: {
              stepSize: 200, autoSkip: false, padding: 3, color: "#111", font: { family: SANS, size: 12 },
              callback: (v: any) => String(v),
            },
            grid: { drawOnChartArea: false, tickColor: "#000", tickLength: 12, tickWidth: 1 },
            border: { color: "#000", width: 1 },
          },
        },
      } as any,
      plugins: [decorPlugin],
    });
    return () => chart.destroy();
  }, []);
  return (
    <div style={{ position: "absolute", left: 0, top: 0, width: 1205, height: 598, background: "#fff" }}>
      <canvas ref={ref} width={1205} height={598} style={{ width: 1205, height: 598, display: "block" }} />
    </div>
  );
}
